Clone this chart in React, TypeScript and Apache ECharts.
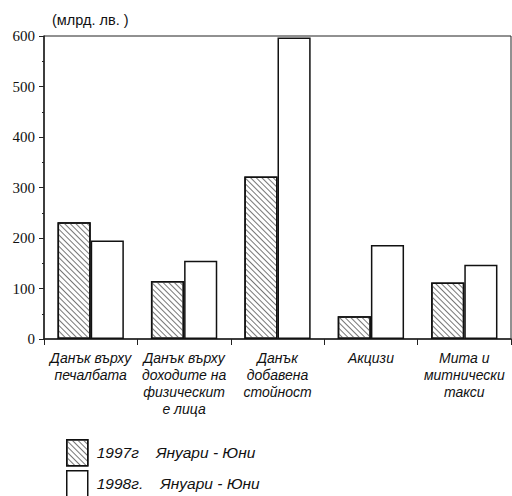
import React, { useEffect, useRef } from "react";
import * as echarts from "echarts";

const categories = [
  "Данък върху\nпечалбата",
  "Данък върху\nдоходите на\nфизическит\nе лица",
  "Данък\nдобавена\nстойност",
  "Акцизи",
  "Мита и\nмитнически\nтакси",
];
const series1997 = [231, 115, 322, 45, 112];
const series1998 = [195, 155, 597, 186, 147];
const seriesNames = ["1997г Януари - Юни", "1998г. Януари - Юни"];
const unitLabel = "(млрд. лв. )";

export default function App() {
  const ref = useRef<HTMLDivElement>(null);
  useEffect(() => {
    if (!ref.current) return;
    const chart = echarts.init(ref.current, undefined, { renderer: "svg" });
    const sans = "Liberation Sans";
    const serif = "Liberation Serif";
    const hatch = {
      symbol: "rect",
      symbolSize: 1,
      color: "#777",
      backgroundColor: "#fff",
      dashArrayX: [1, 0],
      dashArrayY: [1, 3],
      rotation: Math.PI / 4,
    };
    const legendText = {
      fontFamily: sans,
      fontStyle: "italic",
      fontSize: 15.5,
      color: "#111",
    };
    const legendBase = {
      orient: "vertical",
      left: 66,
      padding: 0,
      itemWidth: 21,
      itemHeight: 26,
      icon: "rect",
      itemStyle: { borderColor: "#111", borderWidth: 1.5 },
      // year, then the period set apart by a wider gap
      formatter: (name: string) => {
        const i = name.indexOf(" ");
        return `{y|${name.slice(0, i)}}{p|${name.slice(i + 1)}}`;
      },
      textStyle: {
        ...legendText,
        padding: [0, 0, 0, 4],
        rich: {
          y: { ...legendText },
          p: { ...legendText, padding: [0, 0, 0, 17] },
        },
      },
    };
    chart.setOption({
      animation: false,
      backgroundColor: "#fff",
      grid: {
        left: 44,
        right: 1,
        top: 36,
        bottom: 157,
        show: true,
        borderColor: "#222",
        borderWidth: 1,
        backgroundColor: "transparent",
      },
      graphic: [
        {
          type: "text",
          left: 52,
          top: 12,
          style: { text: unitLabel, fontFamily: sans, fontSize: 14.5, fill: "#111" },
        },
      ],
      legend: [
        { ...legendBase, top: 439, data: [seriesNames[0]] },
        { ...legendBase, top: 470, data: [seriesNames[1]] },
      ],
      xAxis: {
        type: "category",
        data: categories,
        axisLine: { lineStyle: { color: "#222", width: 1.5 } },
        axisTick: { show: true, length: 6, lineStyle: { color: "#222" } },
        axisLabel: {
          interval: 0,
          margin: 10,
          fontFamily: sans,
          fontStyle: "italic",
          fontSize: 14,
          lineHeight: 17,
          color: "#111",
        },
      },
      yAxis: {
        type: "value",
        min: 0,
        max: 600,
        interval: 100,
        axisLine: { show: true, lineStyle: { color: "#222", width: 1.5 } },
        axisTick: { show: true, length: 5, lineStyle: { color: "#222" } },
        minorTick: { show: true, splitNumber: 2, length: 2, lineStyle: { color: "#222" } },
        splitLine: { show: false },
        axisLabel: {
          margin: 9,
          fontFamily: serif,
          fontSize: 15,
          color: "#111",
        },
      },
      series: [
        {
          name: seriesNames[0],
          type: "bar",
          data: series1997,
          barWidth: "35.5%",
          barGap: "0%",
          itemStyle: { color: "#fff", borderColor: "#111", borderWidth: 1.5, decal: hatch },
        },
        {
          name: seriesNames[1],
          type: "bar",
          data: series1998,
          barWidth: "35.5%",
          barGap: "0%",
          itemStyle: { color: "#fff", borderColor: "#111", borderWidth: 1.5 },
        },
      ],
    });
    return () => chart.dispose();
  }, []);
  return <div ref={ref} style={{ width: 512, height: 496, position: "absolute", left: 0, top: 0 }} />;
}
